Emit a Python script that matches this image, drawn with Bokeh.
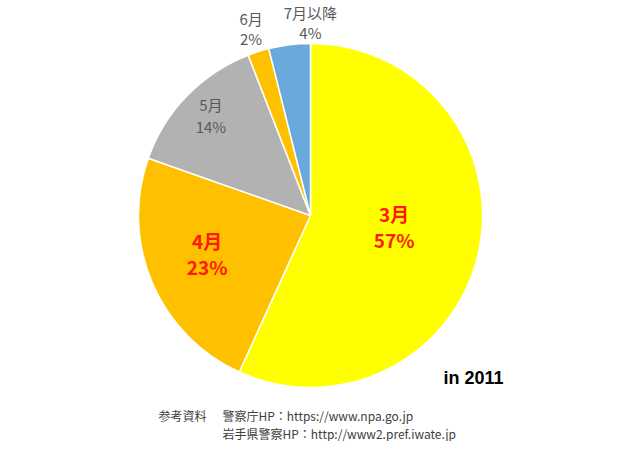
import math
from bokeh.plotting import figure
from bokeh.models import Range1d, ColumnDataSource
from bokeh.core.properties import value
from bokeh.embed import file_html
from bokeh.resources import INLINE

# ---- data ----
months = ["3月", "4月", "5月", "6月", "7月以降"]
shares = [56.8, 23.6, 13.7, 2.0, 3.9]
pct_labels = ["57%", "23%", "14%", "2%", "4%"]
colors = ["#FFFF00", "#FFC000", "#B2B2B2", "#FFC000", "#6AA9DC"]
year_note = "in 2011"
src_head = "参考資料"
src_lines = ["警察庁HP：https://www.npa.go.jp", "岩手県警察HP：http://www2.pref.iwate.jp"]

# ---- style / layout ----
W, H = 612, 441
cx, cy, R = 310, 449 - 215, 172
label_r = [0.49, 0.64, 0.82, 1.14, 1.12]
label_da = [-5, 3, 1, 0, 7]  # degrees adjustment (clockwise positive)
label_style = [
    dict(color="#FF1A00", size="19px", style="bold", gap=13),
    dict(color="#FF1A00", size="19px", style="bold", gap=13),
    dict(color="#595959", size="15px", style="normal", gap=11),
    dict(color="#595959", size="15px", style="normal", gap=10),
    dict(color="#595959", size="15px", style="normal", gap=10),
]

p = figure(width=W, height=H, output_backend="svg", toolbar_location=None,
           x_range=Range1d(0, W), y_range=Range1d(449 - H, 449),
           min_border=0)
p.axis.visible = False
p.grid.visible = False
p.outline_line_color = None
p.background_fill_color = "white"

total = sum(shares)
cum = 0.0
starts, ends, mids = [], [], []
for s in shares:
    a0 = math.pi / 2 - 2 * math.pi * cum / total
    cum += s
    a1 = math.pi / 2 - 2 * math.pi * cum / total
    starts.append(a0)
    ends.append(a1)
    mids.append((a0 + a1) / 2)

src = ColumnDataSource(dict(start=starts, end=ends, color=colors))
p.wedge(x=cx, y=cy, radius=R, start_angle="start", end_angle="end",
        direction="clock", fill_color="color", line_color="white",
        line_width=1.5, source=src)

font = value("Noto Sans CJK JP")
for i in range(len(months)):
    ang = mids[i] - math.radians(label_da[i])
    r = R * label_r[i]
    lx = cx + r * math.cos(ang)
    ly = cy + r * math.sin(ang)
    st = label_style[i]
    gap = st["gap"]
    p.text(x=[lx], y=[ly + gap], text=[months[i]], text_font=font,
           text_font_size=st["size"], text_font_style=st["style"],
           text_color=st["color"], text_align="center", text_baseline="middle")
    p.text(x=[lx], y=[ly - gap], text=[pct_labels[i]], text_font=font,
           text_font_size=st["size"], text_font_style=st["style"],
           text_color=st["color"], text_align="center", text_baseline="middle")

p.text(x=[443], y=[449 - 377], text=[year_note],
       text_font=value("Liberation Sans"), text_font_size="18px",
       text_font_style="bold", text_color="#000000",
       text_align="left", text_baseline="middle")

p.text(x=[158], y=[449 - 415], text=[src_head], text_font=font,
       text_font_size="12px", text_color="#404040",
       text_align="left", text_baseline="middle")
for j, line in enumerate(src_lines):
    p.text(x=[222], y=[449 - 415 - 18 * j], text=[line], text_font=font,
           text_font_size="12px", text_color="#404040",
           text_align="left", text_baseline="middle")

open("out.html", "w").write(file_html(p, INLINE))
